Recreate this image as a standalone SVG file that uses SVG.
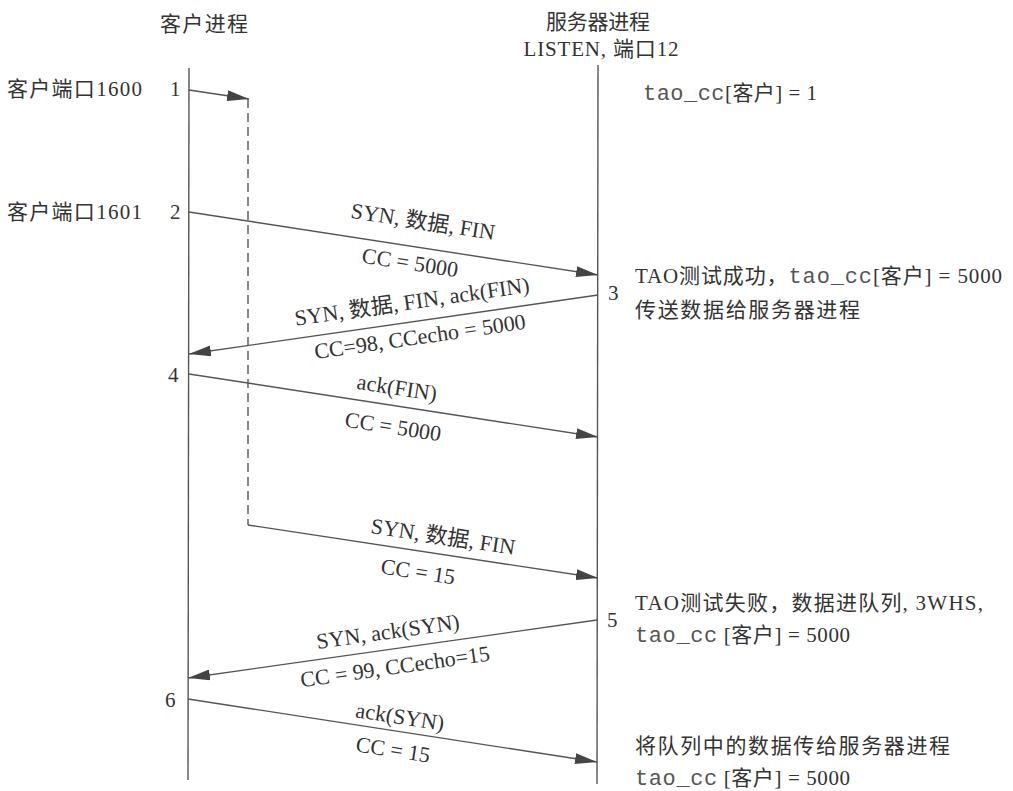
<svg xmlns="http://www.w3.org/2000/svg" width="1013" height="791" viewBox="0 0 1013 791">
<style>
  .t { font-family: "Liberation Serif", "Noto Sans CJK SC", serif; font-size: 21px; fill: #333; }
  .lbl { font-family: "Liberation Serif", "Noto Sans CJK SC", serif; font-size: 22px; fill: #333; text-anchor: middle; }
  .m { font-family: "Liberation Mono", monospace; font-size: 22px; fill: #555; }
  .life { stroke: #555; stroke-width: 1.4; fill: none; }
  .msg { stroke: #555; stroke-width: 1.4; fill: none; marker-end: url(#ah); }
  .dash { stroke: #555; stroke-width: 1.4; fill: none; stroke-dasharray: 9 5; }
</style>
<defs>
  <marker id="ah" markerUnits="userSpaceOnUse" markerWidth="22" markerHeight="11" refX="22" refY="5.5" orient="auto">
    <path d="M0,0 L22,5.5 L0,11 z" fill="#444"/>
  </marker>
</defs>
<rect width="1013" height="791" fill="#fff"/>

<g id="client">
  <text class="t" x="160" y="31" textLength="88">客户进程</text>
  <line class="life" x1="189" y1="68" x2="188" y2="780"/>
  <text class="t" x="7" y="96" textLength="135">客户端口1600</text>
  <text class="t" x="7" y="219" textLength="135">客户端口1601</text>
  <text class="t" x="170" y="96">1</text>
  <text class="t" x="170" y="219">2</text>
  <text class="t" x="168" y="382">4</text>
  <text class="t" x="165" y="707">6</text>
</g>

<g id="server">
  <text class="t" x="598" y="29" text-anchor="middle" textLength="104">服务器进程</text>
  <text class="t" x="601" y="56" text-anchor="middle" textLength="155">LISTEN, 端口12</text>
  <line class="life" x1="598" y1="65" x2="597" y2="784"/>
  <text class="t" x="608" y="300">3</text>
  <text class="t" x="607" y="627">5</text>
</g>

<g id="notes">
  <text class="t" x="643" y="100" textLength="174"><tspan class="m">tao_cc</tspan>[客户] = 1</text>
  <text class="t" x="635" y="283" textLength="367">TAO测试成功，<tspan class="m">tao_cc</tspan>[客户] = 5000</text>
  <text class="t" x="635" y="317" textLength="225">传送数据给服务器进程</text>
  <text class="t" x="635" y="610" textLength="348">TAO测试失败，数据进队列, 3WHS,</text>
  <text class="t" x="635" y="642" textLength="215"><tspan class="m">tao_cc</tspan> [客户] = 5000</text>
  <text class="t" x="635" y="753" textLength="315">将队列中的数据传给服务器进程</text>
  <text class="t" x="635" y="785" textLength="215"><tspan class="m">tao_cc</tspan> [客户] = 5000</text>
</g>

<g id="connectors">
  <line class="msg" x1="189" y1="90" x2="249" y2="99"/>
  <polyline class="dash" points="248,99 248,525"/>
  <line class="msg" x1="248" y1="525" x2="598" y2="578"/>
  <line class="msg" x1="189" y1="212" x2="598" y2="275"/>
  <line class="msg" x1="598" y1="295" x2="189" y2="354"/>
  <line class="msg" x1="189" y1="374" x2="598" y2="437"/>
  <line class="msg" x1="597" y1="620" x2="188" y2="678"/>
  <line class="msg" x1="188" y1="699" x2="597" y2="762"/>
</g>

<g id="labels">
  <text class="lbl" transform="translate(423,222) rotate(8.76)" y="7">SYN, 数据, FIN</text>
  <text class="lbl" transform="translate(410,263) rotate(8.76)" y="7">CC = 5000</text>
  <text class="lbl" transform="translate(412,302) rotate(-8.2)" y="7">SYN, 数据, FIN, ack(FIN)</text>
  <text class="lbl" transform="translate(420,337) rotate(-8.2)" y="7">CC=98, CCecho = 5000</text>
  <text class="lbl" transform="translate(397,388) rotate(8.76)" y="7">ack(FIN)</text>
  <text class="lbl" transform="translate(393,427) rotate(8.76)" y="7">CC = 5000</text>
  <text class="lbl" transform="translate(443,537) rotate(8.6)" y="7">SYN, 数据, FIN</text>
  <text class="lbl" transform="translate(418,572) rotate(8.6)" y="7">CC = 15</text>
  <text class="lbl" transform="translate(388,632) rotate(-8.07)" y="7">SYN, ack(SYN)</text>
  <text class="lbl" transform="translate(395,667) rotate(-8.07)" y="7">CC = 99, CCecho=15</text>
  <text class="lbl" transform="translate(400,717) rotate(8.76)" y="7">ack(SYN)</text>
  <text class="lbl" transform="translate(393,750) rotate(8.76)" y="7">CC = 15</text>
</g>
</svg>
